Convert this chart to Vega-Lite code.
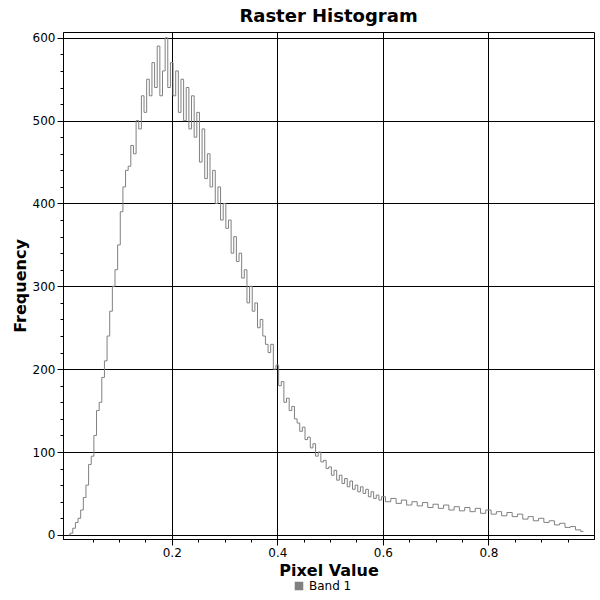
{
  "$schema": "https://vega.github.io/schema/vega-lite/v6.json",
  "width": 600,
  "height": 600,
  "autosize": {"type": "fit", "contains": "padding"},
  "padding": {"left": 12, "right": 6, "top": 8, "bottom": 22},
  "background": "white",
  "title": {"text": "Raster Histogram", "fontSize": 18, "font": "DejaVu Sans", "fontWeight": "bold", "color": "black", "offset": 6},
  "config": {
    "font": "DejaVu Sans",
    "view": {"stroke": "black", "strokeWidth": 1}
  },
  "data": {
    "values": [
      {"x": 0.005, "y": 0}, {"x": 0.01, "y": 2}, {"x": 0.015, "y": 8}, {"x": 0.02, "y": 15}, {"x": 0.025, "y": 20},
      {"x": 0.03, "y": 30}, {"x": 0.035, "y": 45}, {"x": 0.04, "y": 60}, {"x": 0.045, "y": 85}, {"x": 0.05, "y": 95},
      {"x": 0.055, "y": 120}, {"x": 0.06, "y": 150}, {"x": 0.065, "y": 160}, {"x": 0.07, "y": 190}, {"x": 0.075, "y": 210},
      {"x": 0.08, "y": 240}, {"x": 0.085, "y": 270}, {"x": 0.09, "y": 300}, {"x": 0.095, "y": 320}, {"x": 0.1, "y": 350},
      {"x": 0.105, "y": 390}, {"x": 0.11, "y": 420}, {"x": 0.115, "y": 440}, {"x": 0.12, "y": 445}, {"x": 0.125, "y": 470},
      {"x": 0.13, "y": 460}, {"x": 0.135, "y": 500}, {"x": 0.14, "y": 490}, {"x": 0.145, "y": 530}, {"x": 0.15, "y": 510},
      {"x": 0.155, "y": 550}, {"x": 0.16, "y": 530}, {"x": 0.165, "y": 570}, {"x": 0.17, "y": 540}, {"x": 0.175, "y": 590},
      {"x": 0.18, "y": 530}, {"x": 0.185, "y": 560}, {"x": 0.19, "y": 600}, {"x": 0.195, "y": 540}, {"x": 0.2, "y": 570},
      {"x": 0.205, "y": 530}, {"x": 0.21, "y": 560}, {"x": 0.215, "y": 510}, {"x": 0.22, "y": 550}, {"x": 0.225, "y": 500},
      {"x": 0.23, "y": 540}, {"x": 0.235, "y": 490}, {"x": 0.24, "y": 530}, {"x": 0.245, "y": 480}, {"x": 0.25, "y": 510},
      {"x": 0.255, "y": 450}, {"x": 0.26, "y": 490}, {"x": 0.265, "y": 430}, {"x": 0.27, "y": 460}, {"x": 0.275, "y": 420},
      {"x": 0.28, "y": 440}, {"x": 0.285, "y": 400}, {"x": 0.29, "y": 420}, {"x": 0.295, "y": 380}, {"x": 0.3, "y": 400},
      {"x": 0.305, "y": 370}, {"x": 0.31, "y": 380}, {"x": 0.315, "y": 340}, {"x": 0.32, "y": 360}, {"x": 0.325, "y": 330},
      {"x": 0.33, "y": 340}, {"x": 0.335, "y": 310}, {"x": 0.34, "y": 320}, {"x": 0.345, "y": 280}, {"x": 0.35, "y": 300},
      {"x": 0.355, "y": 270}, {"x": 0.36, "y": 280}, {"x": 0.365, "y": 250}, {"x": 0.37, "y": 260}, {"x": 0.375, "y": 240},
      {"x": 0.38, "y": 230}, {"x": 0.385, "y": 220}, {"x": 0.39, "y": 230}, {"x": 0.395, "y": 200}, {"x": 0.4, "y": 205},
      {"x": 0.405, "y": 180}, {"x": 0.41, "y": 185}, {"x": 0.415, "y": 160}, {"x": 0.42, "y": 165}, {"x": 0.425, "y": 150},
      {"x": 0.43, "y": 155}, {"x": 0.435, "y": 140}, {"x": 0.44, "y": 135}, {"x": 0.445, "y": 125}, {"x": 0.45, "y": 130},
      {"x": 0.455, "y": 115}, {"x": 0.46, "y": 118}, {"x": 0.465, "y": 105}, {"x": 0.47, "y": 110}, {"x": 0.475, "y": 95},
      {"x": 0.48, "y": 100}, {"x": 0.485, "y": 88}, {"x": 0.49, "y": 90}, {"x": 0.495, "y": 80}, {"x": 0.5, "y": 82},
      {"x": 0.505, "y": 72}, {"x": 0.51, "y": 78}, {"x": 0.515, "y": 66}, {"x": 0.52, "y": 72}, {"x": 0.525, "y": 62},
      {"x": 0.53, "y": 68}, {"x": 0.535, "y": 58}, {"x": 0.54, "y": 65}, {"x": 0.545, "y": 55}, {"x": 0.55, "y": 60},
      {"x": 0.555, "y": 52}, {"x": 0.56, "y": 58}, {"x": 0.565, "y": 50}, {"x": 0.57, "y": 55}, {"x": 0.575, "y": 46},
      {"x": 0.58, "y": 52}, {"x": 0.585, "y": 44}, {"x": 0.59, "y": 48}, {"x": 0.595, "y": 42}, {"x": 0.6, "y": 46},
      {"x": 0.61, "y": 40}, {"x": 0.62, "y": 44}, {"x": 0.63, "y": 38}, {"x": 0.64, "y": 42}, {"x": 0.65, "y": 36},
      {"x": 0.66, "y": 40}, {"x": 0.67, "y": 35}, {"x": 0.68, "y": 39}, {"x": 0.69, "y": 33}, {"x": 0.7, "y": 37},
      {"x": 0.71, "y": 32}, {"x": 0.72, "y": 36}, {"x": 0.73, "y": 30}, {"x": 0.74, "y": 34}, {"x": 0.75, "y": 29},
      {"x": 0.76, "y": 33}, {"x": 0.77, "y": 28}, {"x": 0.78, "y": 32}, {"x": 0.79, "y": 26}, {"x": 0.8, "y": 30},
      {"x": 0.81, "y": 25}, {"x": 0.82, "y": 28}, {"x": 0.83, "y": 23}, {"x": 0.84, "y": 27}, {"x": 0.85, "y": 22},
      {"x": 0.86, "y": 25}, {"x": 0.87, "y": 19}, {"x": 0.88, "y": 22}, {"x": 0.89, "y": 17}, {"x": 0.9, "y": 20},
      {"x": 0.91, "y": 15}, {"x": 0.92, "y": 17}, {"x": 0.93, "y": 12}, {"x": 0.94, "y": 14}, {"x": 0.95, "y": 9},
      {"x": 0.96, "y": 10}, {"x": 0.97, "y": 6}, {"x": 0.98, "y": 4}
    ]
  },
  "mark": {"type": "line", "interpolate": "step", "strokeWidth": 1},
  "encoding": {
    "x": {
      "field": "x", "type": "quantitative",
      "scale": {"domain": [-0.006, 1.0], "nice": false, "zero": false},
      "axis": {
        "title": "Pixel Value", "titleFontSize": 16, "titleFontWeight": "bold", "titleColor": "black",
        "values": [0.05, 0.1, 0.15, 0.2, 0.25, 0.3, 0.35, 0.4, 0.45, 0.5, 0.55, 0.6, 0.65, 0.7, 0.75, 0.8, 0.85, 0.9, 0.95],
        "labelExpr": "abs(round(datum.value*5) - datum.value*5) < 0.001 ? format(datum.value, '.1f') : ''",
        "labelFontSize": 12, "labelColor": "black",
        "grid": true, "gridColor": "black",
        "gridOpacity": {"condition": {"test": "abs(round(datum.value*5) - datum.value*5) < 0.001", "value": 1}, "value": 0},
        "tickColor": "black",
        "tickSize": {"condition": {"test": "abs(round(datum.value*5) - datum.value*5) < 0.001", "value": 6}, "value": 3},
        "domainColor": "black"
      }
    },
    "y": {
      "field": "y", "type": "quantitative",
      "scale": {"domain": [-5, 607], "nice": false, "zero": false},
      "axis": {
        "title": "Frequency", "titleFontSize": 16, "titleFontWeight": "bold", "titleColor": "black",
        "values": [0, 20, 40, 60, 80, 100, 120, 140, 160, 180, 200, 220, 240, 260, 280, 300, 320, 340, 360, 380, 400, 420, 440, 460, 480, 500, 520, 540, 560, 580, 600],
        "labelExpr": "datum.value % 100 == 0 ? datum.value : ''",
        "labelFontSize": 12, "labelColor": "black",
        "grid": true, "gridColor": "black",
        "gridOpacity": {"condition": {"test": "datum.value % 100 == 0", "value": 1}, "value": 0},
        "tickColor": "black",
        "tickSize": {"condition": {"test": "datum.value % 100 == 0", "value": 6}, "value": 3},
        "domainColor": "black"
      }
    },
    "color": {
      "datum": "Band 1", "type": "nominal",
      "scale": {"range": ["#808080"]},
      "legend": {"title": null, "orient": "none", "legendX": 230, "legendY": 548, "symbolType": "square", "symbolSize": 50, "symbolFillColor": "#808080", "symbolStrokeColor": "#808080", "labelFontSize": 12, "labelColor": "black"}
    }
  }
}
